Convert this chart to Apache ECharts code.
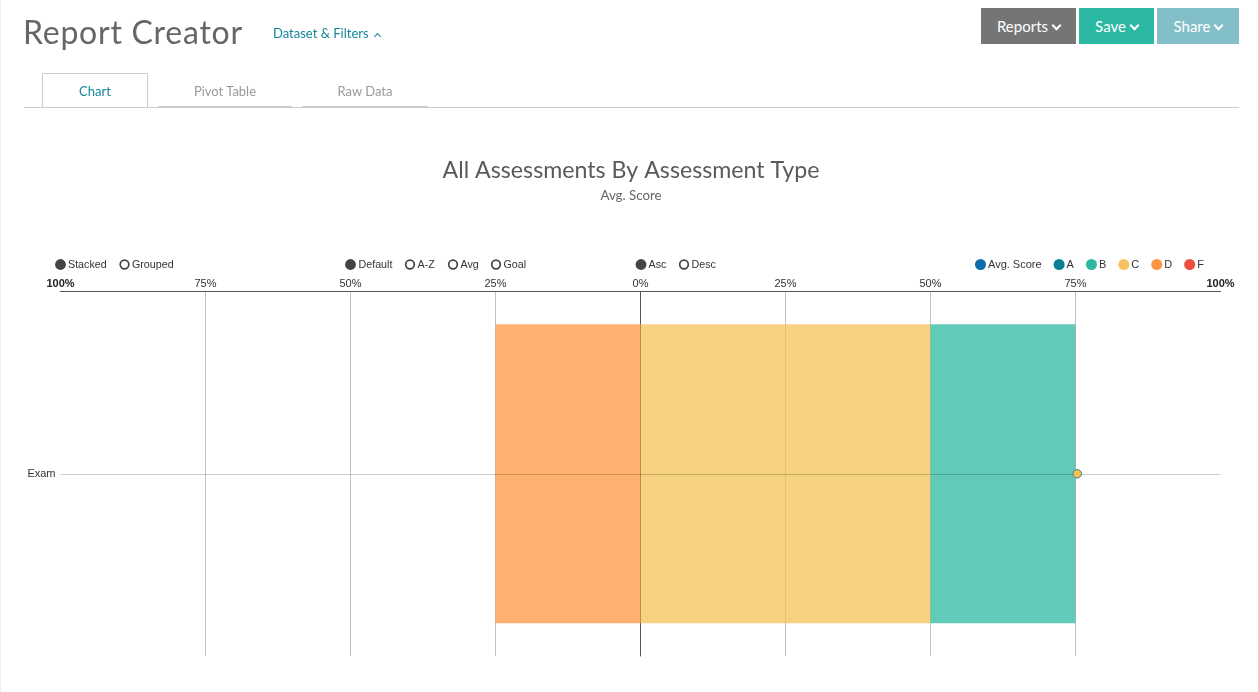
<!DOCTYPE html>
<html>
<head>
<meta charset="utf-8">
<title>Report Creator</title>
<script src="https://cdn.jsdelivr.net/npm/echarts@6/dist/echarts.min.js"></script>
<style>
html, body { margin: 0; padding: 0; background: #fff; }
body { width: 1258px; height: 692px; position: relative; overflow: hidden; font-family: Lato, "Noto Sans", sans-serif; }
#main { position: absolute; left: 0; top: 0; width: 1258px; height: 692px; }
.edge { position: absolute; left: 0; top: 0; width: 1px; height: 692px; background: #f0f0f0; }
.abs { position: absolute; white-space: nowrap; }
.heading { left: 23px; top: 12px; font-size: 32px; line-height: 40px; color: #666; letter-spacing: 0.75px; }
.filters { left: 273px; top: 24px; font-size: 13px; line-height: 18px; color: #14869a; }
.btn { top: 8px; height: 36px; line-height: 37px; color: #fff; font-size: 15px; text-align: center; }
.chev { display: inline-block; width: 5px; height: 5px; border-right: 2px solid currentColor; border-bottom: 2px solid currentColor; transform: rotate(45deg); margin-left: 5px; position: relative; top: -3px; }
.chev.up { transform: rotate(225deg); top: 1px; width: 4px; height: 4px; margin-left: 6px; border-width: 1.5px; }
.tab { top: 73px; height: 34px; line-height: 36px; font-size: 13px; text-align: center; color: #999; box-sizing: border-box; }
.tab.on { color: #14869a; border: 1px solid #ccc; border-bottom: 0; line-height: 34px; }
.tab.off { height: 35px; border-bottom: 2px solid #ccc; }
.rule { left: 24px; top: 107px; width: 1215px; height: 1px; background: #ccc; }
</style>
</head>
<body>
<div id="main"></div>
<div class="edge"></div>
<div class="abs heading">Report Creator</div>
<div class="abs filters">Dataset &amp; Filters<span class="chev up"></span></div>
<div class="abs btn" style="left:981px;width:95px;background:#757575">Reports<span class="chev"></span></div>
<div class="abs btn" style="left:1079px;width:75px;background:#2bb9a3">Save<span class="chev"></span></div>
<div class="abs btn" style="left:1157px;width:82px;background:#82bfc9">Share<span class="chev"></span></div>
<div class="abs rule"></div>
<div class="abs tab on" style="left:42px;width:106px">Chart</div>
<div class="abs tab off" style="left:158px;width:134px">Pivot Table</div>
<div class="abs tab off" style="left:302px;width:126px">Raw Data</div>
<script>
var categories = ['Exam'];
var avgScore = [75.3];
var gradeA = [0];
var gradeB = [25];
var gradeC = [50];
var gradeD = [-25];
var gradeF = [0];
var legendNames = ['Avg. Score', 'A', 'B', 'C', 'D', 'F'];
var legendColors = ['#0f6cab', '#0b7f92', '#2eb8a2', '#f5c45e', '#fd9644', '#ec4f3e'];
var tickValues = [-100, -75, -50, -25, 0, 25, 50, 75, 100];

// toggle rows above the axis: label, dot x, text x, selected
var toggles = [
    ['Stacked', 60.5, 68, true],
    ['Grouped', 124.5, 132, false],
    ['Default', 350.5, 358.5, true],
    ['A-Z', 410, 417.5, false],
    ['Avg', 453, 460.5, false],
    ['Goal', 496, 503.5, false],
    ['Asc', 641, 648.5, true],
    ['Desc', 684, 691.5, false]
];

var chartFont = '"Liberation Sans", Arial, sans-serif';

var toggleGraphics = [];
toggles.forEach(function(t) {
    toggleGraphics.push({
        type: 'circle',
        silent: true,
        shape: { cx: t[1], cy: 264.5, r: t[3] ? 5.4 : 4.3 },
        style: t[3] ? { fill: '#444' } : { fill: '#fff', stroke: '#444', lineWidth: 1.7 }
    });
    toggleGraphics.push({
        type: 'text',
        silent: true,
        style: { x: t[2], y: 265.5, text: t[0], fill: '#333', font: '10.7px ' + chartFont, verticalAlign: 'middle' }
    });
});

function barSeries(name, data, color, extra) {
    var s = {
        name: name,
        type: 'bar',
        stack: 'grades',
        barWidth: '82%',
        data: data,
        itemStyle: { color: color, opacity: 0.75 },
        silent: true
    };
    return Object.assign(s, extra || {});
}

var chart = echarts.init(document.getElementById('main'));
chart.setOption({
    animation: false,
    title: {
        left: 626,
        top: 154,
        textAlign: 'center',
        text: 'All Assessments By Assessment Type',
        subtext: 'Avg. Score',
        itemGap: 7,
        textStyle: { fontFamily: 'Lato', fontSize: 23.2, fontWeight: 'normal', color: '#5a5a5a' },
        subtextStyle: { fontFamily: 'Lato', fontSize: 13.3, color: '#666' }
    },
    legend: {
        left: 970,
        top: 254,
        icon: 'circle',
        itemWidth: 11,
        itemHeight: 11,
        itemGap: 12,
        selectedMode: false,
        textStyle: { fontFamily: chartFont, fontSize: 11, color: '#333', padding: [0, 0, 0, -3] },
        data: legendNames.map(function(n, i) {
            return { name: n, itemStyle: { color: legendColors[i], opacity: 1, borderWidth: 0 } };
        })
    },
    grid: { left: 60.5, top: 291.5, width: 1160, height: 364.5 },
    xAxis: {
        type: 'value',
        position: 'top',
        min: -100,
        max: 100,
        interval: 25,
        axisLine: { show: true, onZero: false, lineStyle: { color: '#555', width: 1 } },
        axisTick: { show: false },
        axisLabel: {
            margin: 2,
            fontFamily: chartFont,
            fontSize: 11,
            color: '#333',
            customValues: tickValues,
            formatter: function(v) {
                var txt = Math.abs(v) + '%';
                return Math.abs(v) === 100 ? '{edge|' + txt + '}' : txt;
            },
            rich: { edge: { fontFamily: chartFont, fontSize: 11, fontWeight: 'bold', color: '#222' } }
        },
        splitLine: { show: true, showMinLine: false, showMaxLine: false, lineStyle: { color: '#c2c2c2', width: 1 } }
    },
    yAxis: {
        type: 'category',
        data: categories,
        axisLine: { show: true, onZero: true, lineStyle: { color: '#555', width: 1 } },
        axisTick: { show: false },
        axisLabel: { fontFamily: chartFont, fontSize: 11, color: '#333', margin: 5, position: 'left' }
    },
    graphic: toggleGraphics,
    series: [
        barSeries('D', gradeD, '#ff9743', {
            markLine: {
                silent: true,
                symbol: 'none',
                label: { show: false },
                lineStyle: { color: 'rgba(0,0,0,0.2)', type: 'solid', width: 1 },
                data: [{ yAxis: categories[0] }]
            }
        }),
        barSeries('F', gradeF, '#ec4f3e'),
        barSeries('C', gradeC, '#f3c254'),
        barSeries('B', gradeB, '#2eb8a2'),
        barSeries('A', gradeA, '#0b7f92'),
        {
            name: 'Avg. Score',
            type: 'scatter',
            z: 10,
            silent: true,
            symbolSize: 8.5,
            itemStyle: { color: '#f5c04e', borderColor: '#3d7c9c', borderWidth: 1, opacity: 1 },
            data: avgScore.map(function(v, i) { return [v, categories[i]]; })
        }
    ]
});
</script>
</body>
</html>
